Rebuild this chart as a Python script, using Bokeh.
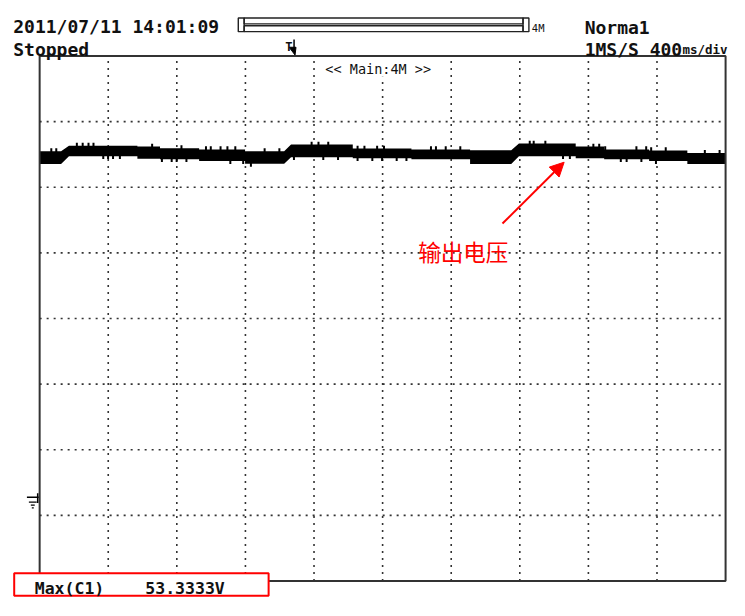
from bokeh.plotting import figure
from bokeh.models import Range1d, Label, Arrow, NormalHead
from bokeh.embed import file_html
from bokeh.resources import INLINE

# ---------------- data ----------------
# time in ms (400 ms/div, 10 div), band envelope of the output voltage in V
time_ms = [0, 125, 171, 570, 570, 702, 702, 930, 930, 1198, 1198, 1426, 1466,
           1826, 1826, 2168, 2168, 2510, 2510, 2750, 2795, 3126, 3126, 3292,
           3292, 3554, 3554, 3777, 3777, 4000]
band_upper_v = [53.13, 53.13, 54.0, 54.0, 53.87, 53.87, 53.6, 53.6, 53.43, 53.43,
                53.13, 53.13, 54.17, 54.17, 53.58, 53.58, 53.43, 53.43, 53.3, 53.3,
                54.32, 54.32, 53.87, 53.87, 53.43, 53.43, 53.28, 53.28, 52.9, 52.9]
band_lower_v = [51.20, 51.20, 52.39, 52.39, 52.0, 52.0, 51.94, 51.94, 51.65, 51.65,
                51.25, 51.25, 52.24, 52.24, 52.09, 52.09, 51.94, 51.94, 51.2, 51.2,
                52.39, 52.39, 52.09, 52.09, 51.94, 51.94, 51.65, 51.65, 51.2, 51.2]
# noise spikes: time (ms) and tip voltage (V)
spike_up_t = [68, 97, 217, 251, 285, 314, 656, 827, 970, 998, 1055, 1095, 1141,
              1312, 1398, 1586, 1626, 1683, 1854, 1894, 1968, 2008, 2282, 2311,
              2368, 2453, 2858, 2881, 2949, 3229, 3263, 3298, 3480, 3537, 3566,
              3651, 3879, 3965]
spike_up_v = [53.6, 53.6, 54.45, 54.45, 54.45, 54.45, 54.3, 54.05, 53.9, 53.9,
              53.9, 53.9, 53.9, 53.6, 53.6, 54.6, 54.6, 54.6, 54.0, 54.0, 54.0,
              54.0, 53.9, 53.9, 53.9, 53.9, 54.75, 54.75, 54.75, 54.3, 54.3, 53.9,
              53.9, 53.9, 53.75, 53.75, 53.35, 53.35]
spike_dn_t = [371, 399, 428, 468, 713, 770, 799, 856, 1112, 1187, 1232, 1483,
              1654, 1740, 1854, 1940, 1997, 2082, 2139, 3052, 3092, 3389, 3423,
              3509, 3594]
spike_dn_v = [51.95, 51.95, 51.95, 51.95, 51.5, 51.5, 51.5, 51.5, 51.2, 51.2,
              50.8, 51.8, 51.8, 51.8, 51.65, 51.65, 51.65, 51.65, 51.65, 51.95,
              51.95, 51.5, 51.5, 51.5, 51.2]

time_per_div_ms = 400
volt_per_div = 10
n_xdiv = 10
n_ydiv = 8

header_date = "2011/07/11 14:01:09"
status_text = "Stopped"
mode_text = "Norma1"
rate_text = "1MS/S 400"
rate_unit = "ms/div"
main_text = "<< Main:4M >>"
mem_text = "4M"
meas_name = "Max(C1)"
meas_value = "53.3333V"
annot_text = "输出电压"

# ---------------- layout helpers (reference pixel -> data) ----------------
W, H = 729, 600
REF_W, REF_H = 745, 616
SX, SY = W / REF_W, H / REF_H
FL, FR, FT, FB = 40 * SX, 741 * SX, 57 * SY, 596 * SY
T_END = time_per_div_ms * n_xdiv
VT = 67.66
VB = VT - volt_per_div * n_ydiv
BAND_MID = 52.7


def X(rx):
    return (rx * SX - FL) / (FR - FL) * T_END


def Y(ry):
    return VT - (ry * SY - FT) / (FB - FT) * (VT - VB)


p = figure(width=W, height=H,
           x_range=Range1d(X(0), X(REF_W)),
           y_range=Range1d(Y(REF_H), Y(0)),
           output_backend="svg", toolbar_location=None,
           x_axis_location=None, y_axis_location=None, min_border=0)
p.outline_line_color = None
p.grid.visible = False
p.background_fill_color = "white"
p.border_fill_color = "white"

# dotted graticule
vx = [time_per_div_ms * k for k in range(1, n_xdiv)]
p.segment(x0=vx, y0=[VB] * len(vx), x1=vx, y1=[VT] * len(vx),
          line_color="#333333", line_width=1.6, line_dash="2 5")
hy = [VB + k * volt_per_div for k in range(1, n_ydiv)]
p.segment(x0=[0] * len(hy), y0=hy, x1=[T_END] * len(hy), y1=hy,
          line_color="#333333", line_width=1.6, line_dash="2 5")

# trace band
p.varea(x=time_ms, y1=band_lower_v, y2=band_upper_v, fill_color="black")
p.segment(x0=spike_up_t, y0=spike_up_v, x1=spike_up_t, y1=[BAND_MID] * len(spike_up_t),
          line_color="black", line_width=2)
p.segment(x0=spike_dn_t, y0=spike_dn_v, x1=spike_dn_t, y1=[BAND_MID] * len(spike_dn_t),
          line_color="black", line_width=2)

# screen frame
p.quad(left=[0], right=[T_END], bottom=[VB], top=[VT], fill_color=None,
       line_color="#333333", line_width=2)

# record-length bar at the top
bar_kw = dict(fill_color=None, line_color="#222222", line_width=1.4)
p.quad(left=[X(243)], right=[X(249)], top=[Y(18)], bottom=[Y(32)], **bar_kw)
p.quad(left=[X(534)], right=[X(540)], top=[Y(18)], bottom=[Y(32)], **bar_kw)
p.quad(left=[X(249), X(249)], right=[X(534), X(534)], top=[Y(18), Y(26)],
       bottom=[Y(24), Y(32)], **bar_kw)

# trigger marker
p.segment(x0=[X(300)], y0=[Y(40)], x1=[X(300)], y1=[Y(49)], line_color="black", line_width=1.5)
p.patch(x=[X(295), X(302), X(301)], y=[Y(48), Y(48), Y(56)], fill_color="black",
        line_color="black")

# ground marker
gx0 = [X(27), X(29), X(31), X(32)]
gx1 = [X(39), X(37), X(35), X(34)]
gy = [Y(510), Y(515), Y(518), Y(521)]
p.segment(x0=gx0, y0=gy, x1=gx1, y1=gy, line_color="black", line_width=1.3)
p.segment(x0=[X(38)], y0=[Y(506)], x1=[X(38)], y1=[Y(516)], line_color="black", line_width=1.5)

# measurement box
p.quad(left=[X(14)], right=[X(274)], top=[Y(588)], bottom=[Y(611)],
       fill_color="white", line_color="#ff0000", line_width=2)

MONO = "DejaVu Sans Mono"


def lab(txt, rx, ry, size, bold=True, color="#111111", align="left", font=MONO, bg=None):
    p.add_layout(Label(x=X(rx), y=Y(ry), text=txt, text_font=font,
                       text_font_size=f"{size}px",
                       text_font_style="bold" if bold else "normal",
                       text_color=color, text_align=align,
                       text_baseline="alphabetic",
                       background_fill_color=bg))


lab(header_date, 13, 27, 18)
lab(status_text, 13, 50, 18)
lab(mode_text, 597, 28, 18)
lab(rate_text, 597, 50, 18)
lab(rate_unit, 743, 50, 12.5, align="right")
lab(mem_text, 543, 28, 10.5, bold=False)
lab("T", 291, 48, 12)
lab(main_text, 332, 70, 13.5, bold=False, bg="white")
lab(meas_name, 35, 604, 16.5)
lab(meas_value, 148, 604, 16.5)
lab(annot_text, 427, 257, 22.5, bold=False, color="#ff0000", font="Noto Sans CJK SC")

p.add_layout(Arrow(end=NormalHead(size=14, fill_color="#ff0000", line_color="#ff0000"),
                   x_start=X(513), y_start=Y(229), x_end=X(576), y_end=Y(166),
                   line_color="#ff0000", line_width=2))

open("out.html", "w").write(file_html(p, INLINE))
